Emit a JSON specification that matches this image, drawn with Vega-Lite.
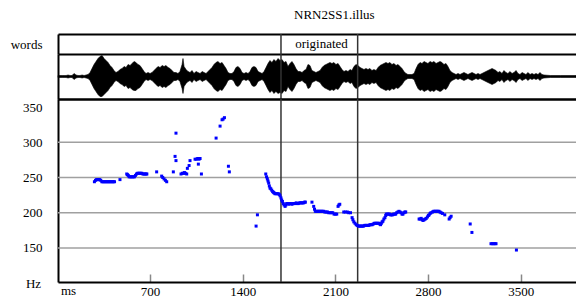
{
"$schema": "https://vega.github.io/schema/vega-lite/v6.json",
"padding": {"left": 10, "top": 9, "right": 0, "bottom": 0},
"bounds": "flush",
"spacing": 0,
"title": {"text": "NRN2SS1.illus", "font": "Liberation Serif", "fontSize": 13, "fontWeight": "normal", "color": "#000", "anchor": "start", "frame": "group", "dx": 236, "offset": 11},
"config": {
  "font": "Liberation Serif",
  "view": {"stroke": null},
  "title": {"font": "Liberation Serif"},
  "text": {"font": "Liberation Serif"},
  "axis": {"labelFont": "Liberation Serif", "titleFont": "Liberation Serif", "labelFontSize": 13, "titleFontSize": 13, "titleFontWeight": "normal", "labelColor": "#000", "titleColor": "#000", "domainColor": "#000", "domainWidth": 2, "grid": false, "ticks": false}
},
"datasets": {
  "words": [{"tier": "words", "word": "originated", "mid": 1995}],
  "bounds": [{"b": 1689}, {"b": 2268}],
  "grid": [{"g": 150}, {"g": 200}, {"g": 250}, {"g": 300}],
  "wave": [
{"t":5,"hi":1,"lo":-1},{"t":20,"hi":1,"lo":-1},{"t":36,"hi":1,"lo":-1},{"t":51,"hi":1,"lo":-1},{"t":66,"hi":1,"lo":-1},{"t":81,"hi":1.5,"lo":-1.5},{"t":96,"hi":1,"lo":-1},{"t":111,"hi":1,"lo":-1},{"t":126,"hi":3,"lo":-3},{"t":141,"hi":1.5,"lo":-1.5},{"t":156,"hi":1,"lo":-1},{"t":171,"hi":1,"lo":-1},{"t":187,"hi":1.5,"lo":-1.5},{"t":202,"hi":1,"lo":-1},{"t":217,"hi":1.5,"lo":-1.5},{"t":232,"hi":2,"lo":-2},{"t":247,"hi":4,"lo":-4},{"t":262,"hi":8,"lo":-8},{"t":277,"hi":12,"lo":-12},{"t":292,"hi":15,"lo":-15},{"t":307,"hi":18,"lo":-18},{"t":322,"hi":20,"lo":-20},{"t":338,"hi":21,"lo":-20},{"t":353,"hi":18,"lo":-18},{"t":368,"hi":16,"lo":-16},{"t":383,"hi":14,"lo":-14},{"t":398,"hi":11,"lo":-11},{"t":413,"hi":9,"lo":-9},{"t":428,"hi":6,"lo":-6},{"t":443,"hi":4,"lo":-4},{"t":458,"hi":5,"lo":-5},{"t":473,"hi":7,"lo":-7},{"t":489,"hi":8,"lo":-8},{"t":504,"hi":10,"lo":-10},{"t":519,"hi":9,"lo":-9},{"t":534,"hi":12,"lo":-12},{"t":549,"hi":11,"lo":-11},{"t":564,"hi":13,"lo":-13},{"t":579,"hi":15,"lo":-14},{"t":594,"hi":14,"lo":-14},{"t":609,"hi":12,"lo":-12},{"t":624,"hi":11,"lo":-11},{"t":640,"hi":8,"lo":-8},{"t":655,"hi":5,"lo":-5},{"t":670,"hi":3,"lo":-3},{"t":685,"hi":4,"lo":-4},{"t":700,"hi":3,"lo":-3},{"t":715,"hi":4,"lo":-4},{"t":730,"hi":6,"lo":-6},{"t":745,"hi":8,"lo":-8},{"t":760,"hi":10,"lo":-10},{"t":776,"hi":9,"lo":-9},{"t":791,"hi":11,"lo":-11},{"t":806,"hi":10,"lo":-10},{"t":821,"hi":11,"lo":-11},{"t":836,"hi":9,"lo":-9},{"t":851,"hi":8,"lo":-8},{"t":866,"hi":6,"lo":-6},{"t":881,"hi":4,"lo":-4},{"t":896,"hi":4,"lo":-4},{"t":911,"hi":3,"lo":-3},{"t":926,"hi":5,"lo":-5},{"t":942,"hi":12,"lo":-12},{"t":949,"hi":18,"lo":-17},{"t":957,"hi":10,"lo":-10},{"t":972,"hi":7,"lo":-7},{"t":987,"hi":5,"lo":-5},{"t":1002,"hi":4,"lo":-4},{"t":1017,"hi":6,"lo":-6},{"t":1032,"hi":3,"lo":-3},{"t":1047,"hi":5,"lo":-5},{"t":1062,"hi":4,"lo":-4},{"t":1078,"hi":3,"lo":-3},{"t":1093,"hi":5,"lo":-5},{"t":1108,"hi":4,"lo":-4},{"t":1123,"hi":3,"lo":-3},{"t":1138,"hi":5,"lo":-5},{"t":1153,"hi":7,"lo":-7},{"t":1168,"hi":9,"lo":-9},{"t":1183,"hi":12,"lo":-12},{"t":1198,"hi":14,"lo":-14},{"t":1213,"hi":15,"lo":-15},{"t":1229,"hi":13,"lo":-13},{"t":1244,"hi":14,"lo":-14},{"t":1259,"hi":11,"lo":-11},{"t":1274,"hi":8,"lo":-8},{"t":1289,"hi":4,"lo":-4},{"t":1304,"hi":3,"lo":-3},{"t":1319,"hi":3,"lo":-3},{"t":1334,"hi":5,"lo":-5},{"t":1349,"hi":9,"lo":-9},{"t":1364,"hi":10,"lo":-10},{"t":1380,"hi":8,"lo":-8},{"t":1395,"hi":4,"lo":-4},{"t":1410,"hi":3,"lo":-3},{"t":1425,"hi":4,"lo":-4},{"t":1440,"hi":3,"lo":-3},{"t":1455,"hi":5,"lo":-5},{"t":1470,"hi":9,"lo":-9},{"t":1485,"hi":10,"lo":-10},{"t":1500,"hi":9,"lo":-9},{"t":1516,"hi":5,"lo":-5},{"t":1531,"hi":4,"lo":-4},{"t":1546,"hi":3,"lo":-3},{"t":1561,"hi":5,"lo":-5},{"t":1576,"hi":9,"lo":-9},{"t":1591,"hi":13,"lo":-13},{"t":1606,"hi":16,"lo":-16},{"t":1621,"hi":14,"lo":-14},{"t":1636,"hi":17,"lo":-17},{"t":1651,"hi":15,"lo":-15},{"t":1667,"hi":18,"lo":-17},{"t":1682,"hi":16,"lo":-16},{"t":1697,"hi":17,"lo":-17},{"t":1712,"hi":14,"lo":-14},{"t":1727,"hi":15,"lo":-15},{"t":1742,"hi":10,"lo":-10},{"t":1757,"hi":13,"lo":-13},{"t":1772,"hi":15,"lo":-15},{"t":1787,"hi":12,"lo":-12},{"t":1802,"hi":8,"lo":-8},{"t":1818,"hi":5,"lo":-5},{"t":1833,"hi":5,"lo":-5},{"t":1848,"hi":4,"lo":-4},{"t":1863,"hi":6,"lo":-6},{"t":1878,"hi":7,"lo":-7},{"t":1893,"hi":12,"lo":-12},{"t":1908,"hi":11,"lo":-11},{"t":1923,"hi":6,"lo":-6},{"t":1938,"hi":5,"lo":-5},{"t":1953,"hi":4,"lo":-4},{"t":1969,"hi":5,"lo":-5},{"t":1984,"hi":6,"lo":-6},{"t":1999,"hi":9,"lo":-9},{"t":2014,"hi":11,"lo":-11},{"t":2029,"hi":12,"lo":-12},{"t":2044,"hi":13,"lo":-13},{"t":2059,"hi":14,"lo":-14},{"t":2074,"hi":13,"lo":-13},{"t":2089,"hi":14,"lo":-14},{"t":2104,"hi":12,"lo":-12},{"t":2120,"hi":13,"lo":-13},{"t":2135,"hi":10,"lo":-10},{"t":2150,"hi":7,"lo":-7},{"t":2165,"hi":5,"lo":-5},{"t":2180,"hi":6,"lo":-6},{"t":2195,"hi":5,"lo":-5},{"t":2210,"hi":7,"lo":-7},{"t":2225,"hi":6,"lo":-6},{"t":2240,"hi":10,"lo":-10},{"t":2256,"hi":12,"lo":-12},{"t":2271,"hi":11,"lo":-11},{"t":2286,"hi":9,"lo":-9},{"t":2301,"hi":8,"lo":-8},{"t":2316,"hi":7,"lo":-7},{"t":2331,"hi":8,"lo":-8},{"t":2346,"hi":7,"lo":-7},{"t":2361,"hi":8,"lo":-8},{"t":2376,"hi":6,"lo":-6},{"t":2391,"hi":7,"lo":-7},{"t":2407,"hi":6,"lo":-6},{"t":2422,"hi":9,"lo":-9},{"t":2437,"hi":11,"lo":-11},{"t":2452,"hi":12,"lo":-12},{"t":2467,"hi":13,"lo":-13},{"t":2482,"hi":14,"lo":-14},{"t":2497,"hi":13,"lo":-13},{"t":2512,"hi":14,"lo":-14},{"t":2527,"hi":12,"lo":-12},{"t":2543,"hi":13,"lo":-13},{"t":2558,"hi":11,"lo":-11},{"t":2573,"hi":12,"lo":-12},{"t":2588,"hi":10,"lo":-10},{"t":2603,"hi":8,"lo":-8},{"t":2618,"hi":5,"lo":-5},{"t":2633,"hi":3,"lo":-3},{"t":2648,"hi":2,"lo":-2},{"t":2663,"hi":2,"lo":-2},{"t":2678,"hi":2,"lo":-2},{"t":2694,"hi":3,"lo":-3},{"t":2709,"hi":8,"lo":-8},{"t":2724,"hi":12,"lo":-12},{"t":2739,"hi":14,"lo":-14},{"t":2754,"hi":13,"lo":-13},{"t":2769,"hi":15,"lo":-15},{"t":2784,"hi":14,"lo":-14},{"t":2799,"hi":13,"lo":-13},{"t":2814,"hi":15,"lo":-15},{"t":2830,"hi":14,"lo":-14},{"t":2845,"hi":15,"lo":-15},{"t":2860,"hi":13,"lo":-13},{"t":2875,"hi":14,"lo":-14},{"t":2890,"hi":15,"lo":-15},{"t":2905,"hi":14,"lo":-14},{"t":2920,"hi":12,"lo":-12},{"t":2935,"hi":13,"lo":-13},{"t":2950,"hi":10,"lo":-10},{"t":2965,"hi":6,"lo":-6},{"t":2981,"hi":4,"lo":-4},{"t":2996,"hi":3,"lo":-3},{"t":3011,"hi":2,"lo":-2},{"t":3026,"hi":3,"lo":-3},{"t":3041,"hi":2,"lo":-2},{"t":3056,"hi":3,"lo":-3},{"t":3071,"hi":4,"lo":-4},{"t":3086,"hi":3,"lo":-3},{"t":3101,"hi":2,"lo":-2},{"t":3116,"hi":3,"lo":-3},{"t":3132,"hi":4,"lo":-4},{"t":3147,"hi":3,"lo":-3},{"t":3162,"hi":2,"lo":-2},{"t":3177,"hi":3,"lo":-3},{"t":3192,"hi":2,"lo":-2},{"t":3207,"hi":3,"lo":-3},{"t":3222,"hi":4,"lo":-4},{"t":3237,"hi":5,"lo":-5},{"t":3252,"hi":6,"lo":-6},{"t":3268,"hi":7,"lo":-7},{"t":3283,"hi":8,"lo":-8},{"t":3298,"hi":7,"lo":-7},{"t":3313,"hi":6,"lo":-6},{"t":3328,"hi":4,"lo":-4},{"t":3343,"hi":5,"lo":-5},{"t":3358,"hi":3,"lo":-3},{"t":3373,"hi":6,"lo":-6},{"t":3388,"hi":4,"lo":-4},{"t":3403,"hi":3,"lo":-3},{"t":3419,"hi":5,"lo":-5},{"t":3434,"hi":3,"lo":-3},{"t":3449,"hi":4,"lo":-4},{"t":3464,"hi":6,"lo":-6},{"t":3479,"hi":3,"lo":-3},{"t":3494,"hi":2,"lo":-2},{"t":3509,"hi":4,"lo":-4},{"t":3524,"hi":3,"lo":-3},{"t":3539,"hi":2,"lo":-2},{"t":3555,"hi":4,"lo":-4},{"t":3570,"hi":2,"lo":-2},{"t":3585,"hi":3,"lo":-3},{"t":3600,"hi":2,"lo":-2},{"t":3615,"hi":3,"lo":-3},{"t":3630,"hi":2,"lo":-2},{"t":3645,"hi":4,"lo":-4},{"t":3660,"hi":2,"lo":-2},{"t":3675,"hi":1.5,"lo":-1.5},{"t":3723,"hi":1,"lo":-1},{"t":3800,"hi":1,"lo":-1},{"t":3917,"hi":1,"lo":-1}
  ],
  "pitch": [
{"t":280,"hz":244},{"t":288,"hz":246},{"t":296,"hz":247},{"t":304,"hz":247},{"t":312,"hz":247},{"t":320,"hz":247},{"t":328,"hz":246},{"t":336,"hz":244},{"t":344,"hz":244},{"t":352,"hz":244},{"t":360,"hz":244},{"t":368,"hz":244},{"t":376,"hz":244},{"t":384,"hz":244},{"t":392,"hz":244},{"t":400,"hz":244},{"t":408,"hz":244},{"t":416,"hz":244},{"t":424,"hz":244},{"t":432,"hz":244},
{"t":473,"hz":247},
{"t":524,"hz":255},{"t":530,"hz":254},{"t":536,"hz":253},{"t":542,"hz":251},{"t":550,"hz":251},{"t":558,"hz":251},{"t":566,"hz":251},{"t":574,"hz":251},{"t":582,"hz":251},{"t":590,"hz":253},{"t":598,"hz":255},{"t":606,"hz":256},{"t":614,"hz":256},{"t":622,"hz":256},{"t":630,"hz":256},{"t":638,"hz":256},{"t":646,"hz":255},{"t":654,"hz":255},{"t":662,"hz":255},{"t":670,"hz":255},{"t":676,"hz":255},
{"t":750,"hz":258},
{"t":788,"hz":252},{"t":796,"hz":250},{"t":806,"hz":248},{"t":816,"hz":246},{"t":826,"hz":244},
{"t":876,"hz":258},{"t":889,"hz":280},{"t":896,"hz":274},{"t":896,"hz":313},
{"t":934,"hz":255},{"t":944,"hz":256},{"t":952,"hz":256},{"t":960,"hz":257},{"t":967,"hz":256},{"t":977,"hz":255},
{"t":982,"hz":263},{"t":995,"hz":267},{"t":1002,"hz":274},
{"t":1040,"hz":276},{"t":1050,"hz":276},{"t":1060,"hz":277},{"t":1070,"hz":276},{"t":1078,"hz":277},{"t":1065,"hz":269},
{"t":1088,"hz":255},
{"t":1199,"hz":306},{"t":1229,"hz":323},{"t":1244,"hz":332},{"t":1252,"hz":333},{"t":1262,"hz":335},
{"t":1292,"hz":266},{"t":1299,"hz":258},
{"t":1501,"hz":181},{"t":1511,"hz":197},
{"t":1574,"hz":255},{"t":1580,"hz":251},{"t":1586,"hz":248},{"t":1591,"hz":245},{"t":1596,"hz":242},{"t":1601,"hz":238},{"t":1606,"hz":235},{"t":1612,"hz":234},{"t":1619,"hz":232},{"t":1626,"hz":230},{"t":1632,"hz":229},{"t":1638,"hz":228},{"t":1644,"hz":227},{"t":1652,"hz":227},{"t":1660,"hz":227},{"t":1669,"hz":227},{"t":1676,"hz":226},{"t":1682,"hz":224},{"t":1689,"hz":221},{"t":1694,"hz":218},{"t":1700,"hz":216},{"t":1706,"hz":213},{"t":1712,"hz":211},{"t":1720,"hz":209},{"t":1726,"hz":211},{"t":1732,"hz":213},{"t":1740,"hz":213},{"t":1748,"hz":212},{"t":1756,"hz":213},{"t":1764,"hz":213},{"t":1772,"hz":212},{"t":1780,"hz":213},{"t":1788,"hz":213},{"t":1796,"hz":213},{"t":1804,"hz":214},{"t":1812,"hz":213},{"t":1820,"hz":213},{"t":1828,"hz":214},{"t":1836,"hz":214},{"t":1844,"hz":214},{"t":1852,"hz":214},{"t":1860,"hz":214},{"t":1868,"hz":215},{"t":1873,"hz":215},
{"t":1923,"hz":215},{"t":1936,"hz":209},{"t":1942,"hz":205},{"t":1948,"hz":202},{"t":1956,"hz":202},{"t":1964,"hz":202},{"t":1972,"hz":202},{"t":1980,"hz":202},{"t":1988,"hz":202},{"t":1996,"hz":202},{"t":2004,"hz":202},{"t":2012,"hz":202},{"t":2020,"hz":201},{"t":2030,"hz":201},{"t":2040,"hz":201},{"t":2049,"hz":200},{"t":2060,"hz":200},{"t":2070,"hz":200},{"t":2080,"hz":200},{"t":2090,"hz":198},{"t":2100,"hz":198},{"t":2110,"hz":198},{"t":2120,"hz":209},{"t":2126,"hz":211},{"t":2133,"hz":212},{"t":2163,"hz":201},{"t":2175,"hz":201},{"t":2190,"hz":201},{"t":2200,"hz":200},{"t":2214,"hz":200},
{"t":2226,"hz":193},{"t":2232,"hz":190},{"t":2239,"hz":187},{"t":2248,"hz":185},{"t":2257,"hz":183},{"t":2265,"hz":182},{"t":2273,"hz":181},{"t":2281,"hz":181},{"t":2289,"hz":181},{"t":2297,"hz":181},{"t":2305,"hz":181},{"t":2313,"hz":181},{"t":2321,"hz":182},{"t":2329,"hz":182},{"t":2337,"hz":182},{"t":2345,"hz":182},{"t":2353,"hz":182},{"t":2361,"hz":183},{"t":2370,"hz":183},{"t":2378,"hz":183},{"t":2386,"hz":184},{"t":2394,"hz":185},{"t":2403,"hz":185},{"t":2412,"hz":185},{"t":2420,"hz":185},{"t":2429,"hz":185},{"t":2435,"hz":184},{"t":2441,"hz":183},{"t":2447,"hz":185},{"t":2453,"hz":187},{"t":2459,"hz":188},{"t":2466,"hz":191},{"t":2474,"hz":193},{"t":2480,"hz":196},{"t":2484,"hz":198},{"t":2492,"hz":198},{"t":2500,"hz":198},{"t":2508,"hz":198},{"t":2516,"hz":197},{"t":2524,"hz":197},{"t":2532,"hz":197},{"t":2540,"hz":198},{"t":2548,"hz":198},{"t":2555,"hz":198},{"t":2563,"hz":200},{"t":2572,"hz":201},{"t":2580,"hz":202},{"t":2588,"hz":201},{"t":2596,"hz":200},{"t":2603,"hz":198},{"t":2610,"hz":198},{"t":2618,"hz":200},{"t":2625,"hz":201},{"t":2631,"hz":201},
{"t":2732,"hz":191},{"t":2740,"hz":191},{"t":2748,"hz":192},{"t":2755,"hz":190},{"t":2762,"hz":189},{"t":2770,"hz":190},{"t":2778,"hz":191},{"t":2786,"hz":192},{"t":2795,"hz":194},{"t":2802,"hz":196},{"t":2808,"hz":197},{"t":2815,"hz":199},{"t":2822,"hz":200},{"t":2833,"hz":201},{"t":2842,"hz":202},{"t":2850,"hz":202},{"t":2858,"hz":202},{"t":2866,"hz":202},{"t":2874,"hz":202},{"t":2882,"hz":202},{"t":2890,"hz":201},{"t":2898,"hz":200},{"t":2909,"hz":199},{"t":2926,"hz":197},
{"t":2959,"hz":191},{"t":2966,"hz":193},{"t":2974,"hz":195},
{"t":3118,"hz":184},{"t":3131,"hz":172},
{"t":3275,"hz":156},{"t":3285,"hz":156},{"t":3295,"hz":156},{"t":3305,"hz":156},{"t":3313,"hz":156},
{"t":3467,"hz":147}
  ]
},
"vconcat": [
  {
    "width": 518, "height": 20,
    "layer": [
      {"data": {"name": "words"},
       "mark": {"type": "text", "font": "Liberation Serif", "fontSize": 13, "color": "#000"},
       "encoding": {
         "x": {"field": "mid", "type": "quantitative", "scale": {"domain": [5, 3917], "nice": false, "zero": false}, "axis": {"orient": "top", "labels": false, "ticks": false, "title": null, "domain": true}},
         "y": {"field": "tier", "type": "nominal", "axis": {"title": null, "labelPadding": 16, "ticks": false, "domain": true}},
         "text": {"field": "word"}
       }},
      {"data": {"name": "bounds"},
       "mark": {"type": "rule", "color": "#333", "strokeWidth": 1.5},
       "encoding": {
         "x": {"field": "b", "type": "quantitative", "axis": {"orient": "bottom", "labels": false, "ticks": false, "title": null, "domain": true}}
       }}
    ],
    "resolve": {"axis": {"x": "independent"}}
  },
  {
    "width": 518, "height": 45,
    "layer": [
      {"data": {"name": "wave"},
       "mark": {"type": "area", "color": "#000", "stroke": "#000", "strokeWidth": 0.6},
       "encoding": {
         "x": {"field": "t", "type": "quantitative", "scale": {"domain": [5, 3917], "nice": false, "zero": false}, "axis": {"orient": "bottom", "labels": false, "ticks": false, "title": null, "domain": true}},
         "y": {"field": "hi", "type": "quantitative", "scale": {"domain": [-22.5, 22.5], "nice": false}, "axis": {"labels": false, "ticks": false, "title": null, "domain": true}},
         "y2": {"field": "lo"}
       }},
      {"data": {"name": "bounds"},
       "mark": {"type": "rule", "color": "#333", "strokeWidth": 1.5},
       "encoding": {
         "x": {"field": "b", "type": "quantitative", "axis": {"orient": "bottom", "labels": false, "ticks": false, "title": null, "domain": true}}
       }}
    ]
  },
  {
    "width": 518, "height": 183,
    "layer": [
      {"data": {"name": "grid"},
       "mark": {"type": "rule", "color": "#a0a0a0", "strokeWidth": 1.5},
       "encoding": {
         "y": {"field": "g", "type": "quantitative", "scale": {"domain": [101.6, 361.5], "nice": false, "zero": false},
               "axis": {"values": [150, 200, 250, 300, 350], "format": "d", "title": "Hz", "titleAngle": 0, "titleX": -25, "titleY": 184, "titleAlign": "center", "titleBaseline": "middle", "labelPadding": 16, "ticks": false, "domain": true}}
       }},
      {"data": {"name": "bounds"},
       "mark": {"type": "rule", "color": "#333", "strokeWidth": 1.5},
       "encoding": {
         "x": {"field": "b", "type": "quantitative", "scale": {"domain": [5, 3917], "nice": false, "zero": false}, "axis": {"orient": "top", "labels": false, "ticks": false, "title": null, "domain": true}}
       }},
      {"data": {"name": "pitch"},
       "mark": {"type": "square", "size": 9, "color": "#0000ff", "opacity": 1},
       "encoding": {
         "x": {"field": "t", "type": "quantitative", "axis": {"orient": "bottom", "values": [700, 1400, 2100, 2800, 3500], "format": "d", "title": "ms", "titleX": 10, "titleY": 12, "titleAlign": "center", "titleBaseline": "alphabetic", "ticks": true, "tickSize": -8, "tickColor": "#888", "tickWidth": 1.5, "labelPadding": 11, "labelFlush": false, "labelOverlap": false, "domain": true}},
         "y": {"field": "hz", "type": "quantitative",
               "axis": {"values": [150, 200, 250, 300, 350], "format": "d", "title": "Hz", "titleAngle": 0, "titleX": -25, "titleY": 184, "titleAlign": "center", "titleBaseline": "middle", "labelPadding": 16, "ticks": false, "domain": true}}
       }}
    ],
    "resolve": {"axis": {"x": "independent"}}
  }
]
}
